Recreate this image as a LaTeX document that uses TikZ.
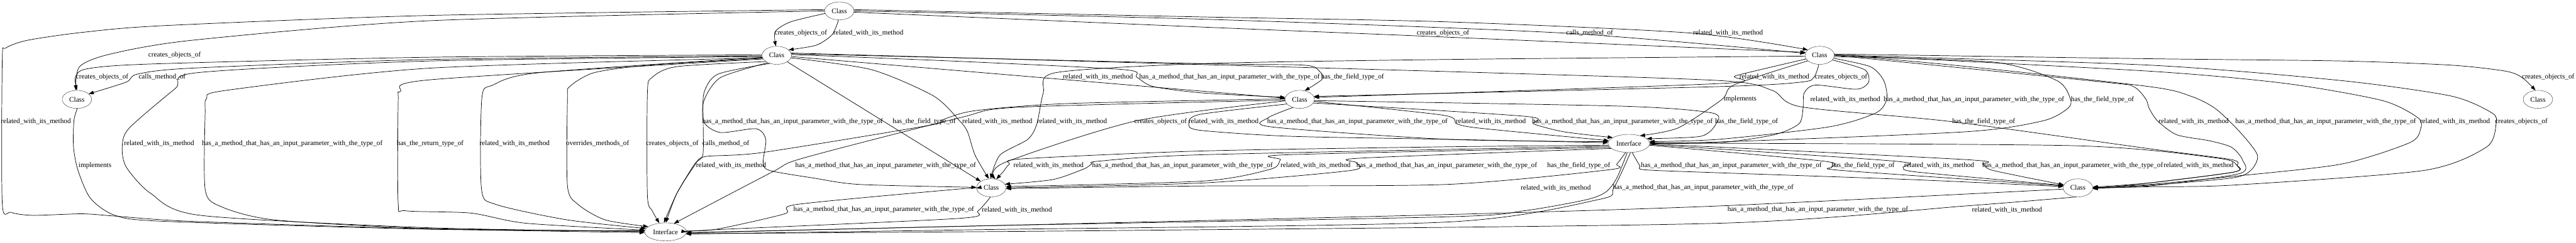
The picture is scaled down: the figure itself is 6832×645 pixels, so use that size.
\documentclass[tikz,border=0pt]{standalone}
\usepackage{fontspec}
\setmainfont{Liberation Serif}
\usetikzlibrary{shapes.geometric, arrows.meta}

\begin{document}
\begin{tikzpicture}[x=0.75pt, y=-0.75pt,
  class/.style={draw, ellipse, minimum width=58.5pt, minimum height=36pt, inner sep=0pt, font=\fontsize{14}{16}\selectfont},
  iface/.style={draw, ellipse, minimum width=83pt, minimum height=36pt, inner sep=0pt, font=\fontsize{14}{16}\selectfont},
  lbl/.style={inner sep=0pt, font=\fontsize{14}{16}\selectfont},
  edge/.style={draw, line width=0.9pt, -{Triangle[length=10pt, width=7pt]}}]
\useasboundingbox (0,0) rectangle (6832,645);
% nodes
\node[class] (cA) at (2226,29) {Class};
\node[class] (cB) at (2060,147) {Class};
\node[class] (cH) at (4826,147) {Class};
\node[class] (cC) at (204,264) {Class};
\node[class] (cF) at (3447,264) {Class};
\node[class] (cJ) at (6731,264) {Class};
\node[iface] (iG) at (4320,381) {Interface};
\node[class] (cE) at (2629,499) {Class};
\node[class] (cI) at (5511,499) {Class};
\node[iface] (iD) at (1765,616) {Interface};
% labels
\node[lbl] (t1) at (2124,88) {creates\_objects\_of};
\node[lbl] (t2) at (2303,88) {related\_with\_its\_method};
\node[lbl] (t3) at (3827,88) {creates\_objects\_of};
\node[lbl] (t4) at (4216,88) {calls\_method\_of};
\node[lbl] (t5) at (4583,88) {related\_with\_its\_method};
\node[lbl] (t6) at (463,147) {creates\_objects\_of};
\node[lbl] (t7) at (271,204) {creates\_objects\_of};
\node[lbl] (t8) at (430,204) {calls\_method\_of};
\node[lbl] (t9) at (2912,204) {related\_with\_its\_method};
\node[lbl] (t10) at (3261,204) {has\_a\_method\_that\_has\_an\_input\_parameter\_with\_the\_type\_of};
\node[lbl] (t11) at (3587,204) {has\_the\_field\_type\_of};
\node[lbl] (t12) at (4706,204) {related\_with\_its\_method};
\node[lbl] (t13) at (4883,204) {creates\_objects\_of};
\node[lbl] (t14) at (6758,204) {creates\_objects\_of};
\node[lbl] (t15) at (4615,264) {implements};
\node[lbl] (t16) at (4894,264) {related\_with\_its\_method};
\node[lbl] (t17) at (5235,264) {has\_a\_method\_that\_has\_an\_input\_parameter\_with\_the\_type\_of};
\node[lbl] (t18) at (5576,264) {has\_the\_field\_type\_of};
\node[lbl] (t19) at (95,323) {related\_with\_its\_method};
\node[lbl] (t20) at (2102,323) {has\_a\_method\_that\_has\_an\_input\_parameter\_with\_the\_type\_of};
\node[lbl] (t21) at (2451,323) {has\_the\_field\_type\_of};
\node[lbl] (t22) at (2645,323) {related\_with\_its\_method};
\node[lbl] (t23) at (2843,323) {related\_with\_its\_method};
\node[lbl] (t24) at (3078,323) {creates\_objects\_of};
\node[lbl] (t25) at (3245,323) {related\_with\_its\_method};
\node[lbl] (t26) at (3600,323) {has\_a\_method\_that\_has\_an\_input\_parameter\_with\_the\_type\_of};
\node[lbl] (t27) at (3954,323) {related\_with\_its\_method};
\node[lbl] (t28) at (4303,323) {has\_a\_method\_that\_has\_an\_input\_parameter\_with\_the\_type\_of};
\node[lbl] (t29) at (4632,323) {has\_the\_field\_type\_of};
\node[lbl] (t30) at (5261,323) {has\_the\_field\_type\_of};
\node[lbl] (t31) at (5818,323) {related\_with\_its\_method};
\node[lbl] (t32) at (6168,323) {has\_a\_method\_that\_has\_an\_input\_parameter\_with\_the\_type\_of};
\node[lbl] (t33) at (6511,323) {related\_with\_its\_method};
\node[lbl] (t34) at (6687,323) {creates\_objects\_of};
\node[lbl] (t35) at (422,381) {related\_with\_its\_method};
\node[lbl] (t36) at (775,381) {has\_a\_method\_that\_has\_an\_input\_parameter\_with\_the\_type\_of};
\node[lbl] (t37) at (1141,381) {has\_the\_return\_type\_of};
\node[lbl] (t38) at (1365,381) {related\_with\_its\_method};
\node[lbl] (t39) at (1585,381) {overrides\_methods\_of};
\node[lbl] (t40) at (1783,381) {creates\_objects\_of};
\node[lbl] (t41) at (1925,381) {calls\_method\_of};
\node[lbl] (t42) at (252,440) {implements};
\node[lbl] (t43) at (1939,440) {related\_with\_its\_method};
\node[lbl] (t44) at (2349,440) {has\_a\_method\_that\_has\_an\_input\_parameter\_with\_the\_type\_of};
\node[lbl] (t45) at (2781,440) {related\_with\_its\_method};
\node[lbl] (t46) at (3136,440) {has\_a\_method\_that\_has\_an\_input\_parameter\_with\_the\_type\_of};
\node[lbl] (t47) at (3489,440) {related\_with\_its\_method};
\node[lbl] (t48) at (3837,440) {has\_a\_method\_that\_has\_an\_input\_parameter\_with\_the\_type\_of};
\node[lbl] (t49) at (4187,440) {has\_the\_field\_type\_of};
\node[lbl] (t50) at (4592,440) {has\_a\_method\_that\_has\_an\_input\_parameter\_with\_the\_type\_of};
\node[lbl] (t51) at (4941,440) {has\_the\_field\_type\_of};
\node[lbl] (t52) at (5143,440) {related\_with\_its\_method};
\node[lbl] (t53) at (5497,440) {has\_a\_method\_that\_has\_an\_input\_parameter\_with\_the\_type\_of};
\node[lbl] (t54) at (5831,440) {related\_with\_its\_method};
\node[lbl] (t55) at (4126,499) {related\_with\_its\_method};
\node[lbl] (t56) at (4517,499) {has\_a\_method\_that\_has\_an\_input\_parameter\_with\_the\_type\_of};
\node[lbl] (t57) at (2344,557) {has\_a\_method\_that\_has\_an\_input\_parameter\_with\_the\_type\_of};
\node[lbl] (t58) at (2697,557) {related\_with\_its\_method};
\node[lbl] (t59) at (4821,557) {has\_a\_method\_that\_has\_an\_input\_parameter\_with\_the\_type\_of};
\node[lbl] (t60) at (5323,557) {related\_with\_its\_method};
% edges from the top class
\draw[edge] plot[smooth, tension=0.45] coordinates {(cA.190) (2097,58) (2056,84) (cB.95)};
\draw[edge] plot[smooth, tension=0.45] coordinates {(cA.265) (2207,92) (2165,120) (cB.25)};
\draw[edge] plot[smooth, tension=0.45] coordinates {(cA.180) (1140,55) (509,107) (291,144) (211,177) (cC.97)};
\draw[edge] plot[smooth, tension=0.45] coordinates {(cA.175) (1140,41) (436,68) (218,86) (73,107) (15,128) (6,160) (6,540) (29,564) (87,572) (218,568) (305,574) (509,588) (1140,608) (iD.182)};
\draw[edge] plot[smooth, tension=0.45] coordinates {(cA.-5) (3190,72) (3752,95) (cH.168)};
\draw[edge] plot[smooth, tension=0.45] coordinates {(cA.0) (3190,51) (4150,88) (cH.172)};
\draw[edge] plot[smooth, tension=0.45] coordinates {(cA.5) (3190,45) (3835,58) (4487,88) (cH.155)};
% edges from cB
\draw[edge] plot[smooth, tension=0.45] coordinates {(cB.178) (1140,152) (400,170) (230,183) (200,205) (cC.90)};
\draw[edge] plot[smooth, tension=0.45] coordinates {(cB.182) (1140,158) (509,181) (364,197) (335,218) (cC.25)};
\draw[edge] plot[smooth, tension=0.45] coordinates {(cB.185) (1140,162) (524,193) (465,235) (342,341) (324,391) (335,444) (400,514) (531,572) (1140,605) (iD.179)};
\draw[edge] plot[smooth, tension=0.45] coordinates {(cB.190) (1140,181) (600,240) (548,262) (544,300) (544,502) (582,547) (727,584) (1140,607) (iD.178)};
\draw[edge] plot[smooth, tension=0.45] coordinates {(cB.195) (1140,212) (1062,243) (1056,268) (1056,540) (1076,560) (1249,566) (1395,593) (iD.175)};
\draw[edge] plot[smooth, tension=0.45] coordinates {(cB.188) (1431,193) (1307,226) (1278,260) (1277,502) (1315,543) (1504,584) (iD.170)};
\draw[edge] plot[smooth, tension=0.45] coordinates {(cB.192) (1722,173) (1576,193) (1511,230) (1505,263) (1505,494) (1533,543) (1605,584) (iD.163)};
\draw[edge] plot[smooth, tension=0.45] coordinates {(cB.210) (1795,177) (1729,206) (1717,247) (1717,519) (1730,560) (iD.125)};
\draw[edge] plot[smooth, tension=0.45] coordinates {(cB.230) (1904,197) (1867,247) (1865,325) (1864,412) (1842,436) (1795,514) (iD.100)};
\draw[edge] plot[smooth, tension=0.45] coordinates {(cB.220) (1911,206) (1867,267) (1867,325) (1911,352) (2005,342) (2031,370) (2024,432) (2042,453) (2158,473) (2280,490) (cE.178)};
\draw[edge] (cB) -- (cE);
\draw[edge] plot[smooth, tension=0.45] coordinates {(cB.-10) (2311,185) (2476,255) (2545,321) (2566,350) (2586,412) (cE.105)};
\draw[edge] (cB) -- (cF);
\draw[edge] plot[smooth, tension=0.45] coordinates {(cB.3) (2545,163) (2981,185) (3015,205) (3059,230) (3190,247) (cF.172)};
\draw[edge] plot[smooth, tension=0.45] coordinates {(cB.6) (3190,169) (3457,173) (3499,189) (3507,210) (cF.60)};
\draw[edge] plot[smooth, tension=0.45] coordinates {(cB.9) (3835,190) (4560,214) (4700,240) (4778,284) (5175,323) (5700,395) (5918,424) (5933,440) (5925,457) (5700,486) (cI.3)};
% edge from cC
\draw[edge] plot[smooth, tension=0.45] coordinates {(cC.-88) (196,321) (195,391) (207,453) (240,527) (305,572) (436,588) (1140,609) (iD.177)};
% edges from cF
\draw[edge] plot[smooth, tension=0.45] coordinates {(cF.178) (2833,275) (2586,294) (2500,318) (2464,333) (2023,405) (1870,416) (1842,440) (1795,514) (iD.88)};
\draw[edge] plot[smooth, tension=0.45] coordinates {(cF.183) (2700,285) (2545,313) (2130,420) (2048,457) (iD.45)};
\draw[edge] plot[smooth, tension=0.45] coordinates {(cF.186) (3014,321) (2664,432) (cE.65)};
\draw[edge] plot[smooth, tension=0.45] coordinates {(cF.200) (3182,304) (3153,329) (3182,346) (3420,362) (3835,370) (iG.178)};
\draw[edge] plot[smooth, tension=0.45] coordinates {(cF.230) (3363,313) (3371,337) (3835,370) (iG.175)};
\draw[edge] plot[smooth, tension=0.45] coordinates {(cF.-8) (3827,306) (3864,329) (3929,341) (iG.172)};
\draw[edge] plot[smooth, tension=0.45] coordinates {(cF.-15) (4045,309) (4067,329) (4147,350) (iG.160)};
\draw[edge] plot[smooth, tension=0.45] coordinates {(cF.-5) (4300,282) (4540,300) (4551,329) (4511,362) (iG.15)};
% edges from cH
\draw[edge] plot[smooth, tension=0.45] coordinates {(cH.183) (3835,158) (3190,169) (2800,193) (2767,247) (2750,329) (2726,370) (2652,412) (cE.95)};
\draw[edge] plot[smooth, tension=0.45] coordinates {(cH.195) (4604,201) (4560,222) (cF.8)};
\draw[edge] plot[smooth, tension=0.45] coordinates {(cH.-95) (4811,205) (4778,218) (4560,230) (cF.12)};
\draw[edge] plot[smooth, tension=0.45] coordinates {(cH.205) (4600,225) (4567,264) (4450,340) (iG.35)};
\draw[edge] plot[smooth, tension=0.45] coordinates {(cH.-20) (4945,185) (4956,218) (4924,237) (4815,226) (4785,247) (4782,288) (4771,329) (4705,358) (4560,379) (iG.0)};
\draw[edge] plot[smooth, tension=0.45] coordinates {(cH.-12) (4960,177) (4996,214) (5004,263) (4975,300) (4851,337) (4560,370) (iG.5)};
\draw[edge] plot[smooth, tension=0.45] coordinates {(cH.-5) (5287,165) (5455,214) (5491,263) (5484,288) (5418,321) (5214,350) (4560,377) (iG.3)};
\draw[edge] plot[smooth, tension=0.45] coordinates {(cH.5) (5700,156) (6209,162) (6500,173) (6645,189) (6689,206) (cJ.105)};
\draw[edge] plot[smooth, tension=0.45] coordinates {(cH.0) (5578,218) (5658,230) (5691,263) (5700,288) (5722,321) (5773,358) (5860,374) (5918,391) (5947,424) (5940,461) (5700,494) (cI.2)};
\draw[edge] plot[smooth, tension=0.45] coordinates {(cH.3) (5200,175) (5700,230) (5809,255) (5875,288) (5940,350) (5987,412) (5969,453) (5918,473) (5700,492) (cI.1)};
\draw[edge] plot[smooth, tension=0.45] coordinates {(cH.2) (5700,189) (6064,222) (6318,267) (6413,313) (6420,342) (6391,379) (6209,436) (5918,469) (5700,490) (cI.0)};
\draw[edge] plot[smooth, tension=0.45] coordinates {(cH.1) (5700,173) (6209,214) (6500,255) (6609,300) (6620,329) (6594,391) (6427,453) (5918,492) (5700,496) (cI.-2)};
% edges from iG
\draw[edge] plot[smooth, tension=0.45] coordinates {(iG.185) (3835,390) (3190,401) (2710,422) (2677,436) (2660,457) (cE.60)};
\draw[edge] plot[smooth, tension=0.45] coordinates {(iG.188) (3190,411) (2915,428) (2895,436) (2874,449) (2792,477) (cE.15)};
\draw[edge] plot[smooth, tension=0.45] coordinates {(iG.192) (3416,411) (3396,424) (3371,449) (3190,481) (cE.5)};
\draw[edge] plot[smooth, tension=0.45] coordinates {(iG.196) (3610,420) (3597,432) (3581,453) (3190,486) (cE.0)};
\draw[edge] plot[smooth, tension=0.45] coordinates {(iG.-110) (4288,436) (4267,451) (3835,490) (3190,494) (cE.-3)};
\draw[edge] plot[smooth, tension=0.45] coordinates {(iG.-70) (4349,440) (4362,451) (4560,459) (5069,477) (cI.175)};
\draw[edge] plot[smooth, tension=0.45] coordinates {(iG.-5) (4836,428) (4858,444) (4887,453) (cI.172)};
\draw[edge] plot[smooth, tension=0.45] coordinates {(iG.-3) (5025,428) (5047,444) (5084,457) (cI.170)};
\draw[edge] plot[smooth, tension=0.45] coordinates {(iG.-1) (5214,424) (5258,436) (5287,453) (cI.168)};
\draw[edge] plot[smooth, tension=0.45] coordinates {(iG.1) (5500,387) (5880,420) (5933,440) (5925,457) (5700,486) (cI.-4)};
\draw[edge] plot[smooth, tension=0.45] coordinates {(iG.-100) (4288,473) (4259,510) (4205,531) (4041,560) (3835,576) (2600,600) (iD.-3)};
\draw[edge] plot[smooth, tension=0.45] coordinates {(iG.-80) (4280,499) (4240,530) (3835,590) (2600,610) (iD.-6)};
% edges at the bottom
\draw[edge] plot[smooth, tension=0.45] coordinates {(iD.3) (1900,609) (2081,568) (2114,543) (2545,502) (cE.182)};
\draw[edge] plot[smooth, tension=0.45] coordinates {(cE.-95) (2594,560) (2545,580) (1900,610) (iD.0)};
\draw[edge] plot[smooth, tension=0.45] coordinates {(cI.185) (4560,547) (3835,570) (2600,600) (iD.-2)};
\draw[edge] plot[smooth, tension=0.45] coordinates {(cI.-100) (5214,547) (4560,593) (3000,612) (iD.-5)};
\end{tikzpicture}
\end{document}
